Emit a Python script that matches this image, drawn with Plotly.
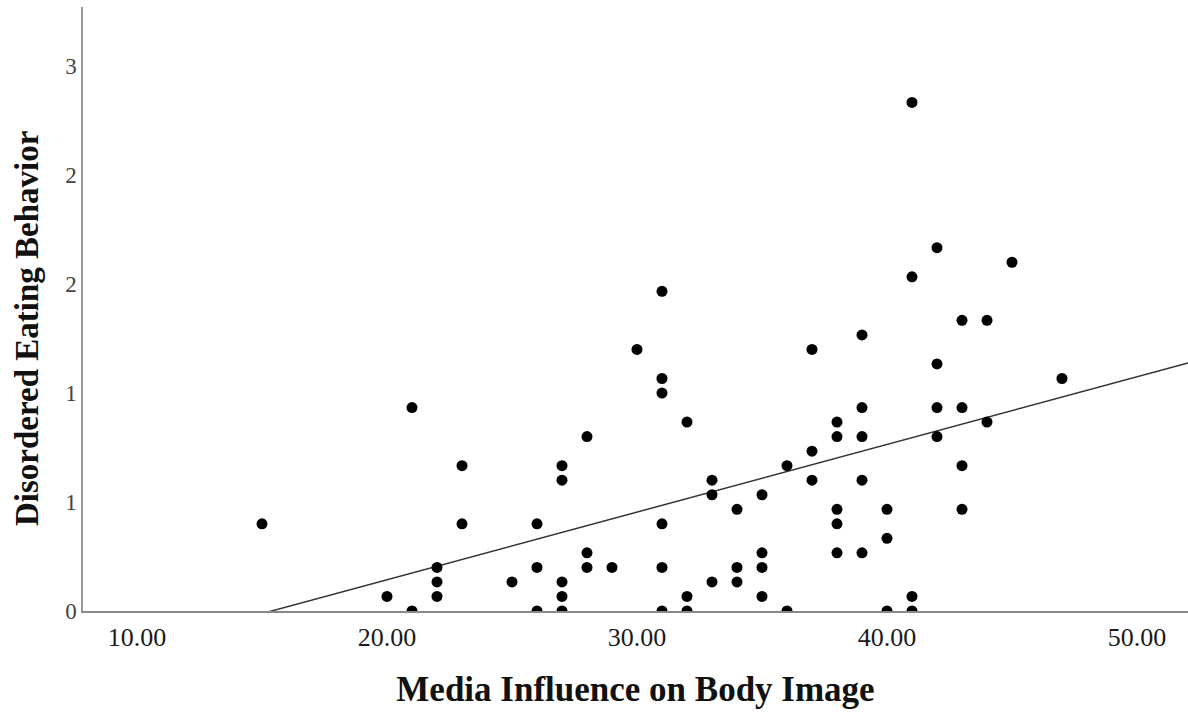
import numpy as np
import plotly.graph_objects as go

# Media influence score (x) and disordered eating score (y) per respondent.
# Eating scores are stored as fifteenths, i.e. item sums divided by 15.
media_influence = [
    15,
    20,
    21, 21,
    22, 22, 22,
    23, 23,
    25,
    26, 26, 26,
    27, 27, 27, 27, 27,
    28, 28, 28,
    29,
    30,
    31, 31, 31, 31, 31, 31,
    32, 32, 32,
    33, 33, 33,
    34, 34, 34,
    35, 35, 35, 35,
    36, 36,
    37, 37, 37,
    38, 38, 38, 38, 38,
    39, 39, 39, 39, 39,
    40, 40, 40,
    41, 41, 41, 41,
    42, 42, 42, 42,
    43, 43, 43, 43,
    44, 44,
    45,
    47,
]
eating_fifteenths = [
    6,
    1,
    14, 0,
    3, 2, 1,
    10, 6,
    2,
    6, 3, 0,
    10, 9, 2, 1, 0,
    12, 4, 3,
    3,
    18,
    22, 16, 15, 6, 3, 0,
    13, 1, 0,
    9, 8, 2,
    7, 3, 2,
    8, 4, 3, 1,
    10, 0,
    18, 11, 9,
    13, 12, 7, 6, 4,
    19, 14, 12, 9, 4,
    7, 5, 0,
    35, 23, 1, 0,
    25, 17, 14, 12,
    20, 14, 10, 7,
    20, 13,
    24,
    16,
]

x_tick_values = [10, 20, 30, 40, 50]
y_tick_values = [0, 0.5, 1.0, 1.5, 2.0, 2.5]
y_tick_labels = ["0", "1", "1", "2", "2", "3"]

x_range = [7.84, 52.04]
y_range = [0, 2.771]

x = np.array(media_influence, dtype=float)
y = np.array(eating_fifteenths, dtype=float) / 15.0

# Ordinary least squares fit line over the whole x axis
slope, intercept = np.polyfit(x, y, 1)
fit_x = np.array(x_range)
fit_y = intercept + slope * fit_x

serif = "Liberation Serif, Times New Roman, serif"

fig = go.Figure()
fig.add_trace(go.Scatter(
    x=fit_x, y=fit_y, mode="lines",
    line=dict(color="#333333", width=1.5),
    hoverinfo="skip", showlegend=False,
))
fig.add_trace(go.Scatter(
    x=x, y=y, mode="markers",
    marker=dict(color="black", size=11, line=dict(width=0)),
    cliponaxis=True, showlegend=False,
))

fig.update_layout(
    width=1188, height=712,
    margin=dict(l=83, r=0, t=7, b=101),
    paper_bgcolor="white", plot_bgcolor="white",
    font=dict(family=serif, color="#111111"),
    xaxis=dict(
        range=x_range, tickvals=x_tick_values, tickformat=".2f",
        showgrid=False, zeroline=False, showline=True,
        linecolor="#888888", linewidth=1.5, ticks="",
        tickfont=dict(family=serif, size=26, color="#1a1a1a"),
        ticklabelstandoff=2,
        title=dict(text="<b>Media Influence on Body Image</b>",
                   font=dict(family=serif, size=35, color="#111111"),
                   standoff=26),
    ),
    yaxis=dict(
        range=y_range, tickvals=y_tick_values, ticktext=y_tick_labels,
        showgrid=False, zeroline=False, showline=True,
        linecolor="#999999", linewidth=1.5, ticks="",
        tickfont=dict(family=serif, size=23, color="#444444"),
        ticklabelstandoff=0,
    ),
    annotations=[dict(
        text="<b>Disordered Eating Behavior</b>",
        xref="paper", yref="paper", x=-0.0507, y=0.4685,
        xanchor="center", yanchor="middle", textangle=-90,
        showarrow=False, font=dict(family=serif, size=33, color="#111111"),
    )],
)

fig.write_html("out.html")
